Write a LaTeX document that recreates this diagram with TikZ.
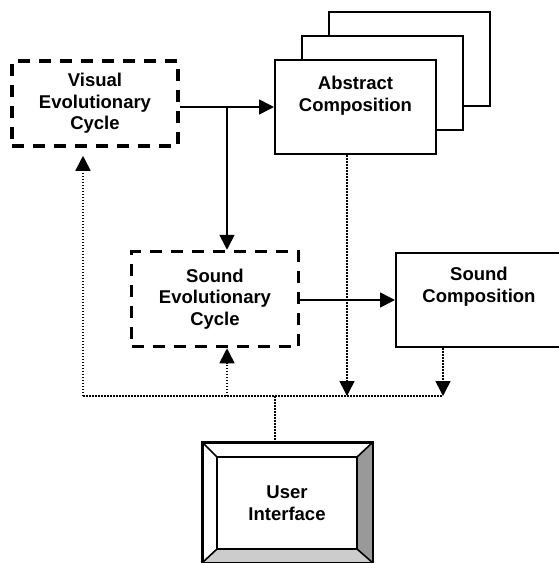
\documentclass[tikz,border=0pt]{standalone}
\usepackage{fontspec}
\setmainfont{Liberation Sans}
\usetikzlibrary{arrows.meta,calc}

\begin{document}
\begin{tikzpicture}[x=1pt, y=-1pt, every node/.style={font=\bfseries\fontsize{18.5}{21.5}\selectfont, align=center}, >={Triangle[length=15pt,width=15pt]}, cyc/.style={draw, line width=3.5pt, dash pattern=on 12pt off 9pt, inner sep=0pt}, comp/.style={draw, fill=white, line width=2pt, minimum width=161pt, minimum height=94pt, inner sep=0pt}, link/.style={line width=1.6pt}, usr/.style={line width=1.6pt, dash pattern=on 1.5pt off 1.5pt}]
	\useasboundingbox (0,0) rectangle (559,563);
	% evolutionary cycles
	\node[cyc, minimum width=166pt, minimum height=85pt] (vec) at (95,103.5) {Visual\\Evolutionary\\Cycle};
	\node[cyc, minimum width=167pt, minimum height=95pt] (sec) at (215,299) {Sound\\Evolutionary\\Cycle};
	% compositions
	\node[comp] (abs3) at (409.5,59) {};
	\node[comp] (abs2) at (382.5,83) {};
	\node[comp, label={[anchor=north, yshift=-14pt]north:Abstract\\Composition}] (abs) at (355.5,107) {};
	\node[comp, minimum width=166pt, label={[anchor=north, yshift=-12pt]north:Sound\\Composition}] (snd) at (479,300) {};
	% user interface
	\node[draw, line width=1.6pt, minimum width=169pt, minimum height=119pt, inner sep=0pt] (ui) at (287.5,502.5) {};
	\coordinate (i1) at ($(ui.north west)+(15,15)$);
	\coordinate (i2) at ($(ui.north east)+(-16,15)$);
	\coordinate (i3) at ($(ui.south east)+(-16,-14)$);
	\coordinate (i4) at ($(ui.south west)+(15,-14)$);
	\fill[black!40] (ui.north east) -- (ui.south east) -- (i3) -- (i2) -- cycle;
	\fill[black!20] (ui.south west) -- (ui.south east) -- (i3) -- (i4) -- cycle;
	\draw[line width=1.6pt, line join=miter] (ui.north west) rectangle (ui.south east);
	\draw[line width=1.6pt] (i1) rectangle (i3);
	\draw[line width=1.6pt] (ui.north west) -- (i1) (ui.north east) -- (i2) (ui.south east) -- (i3) (ui.south west) -- (i4);
	\node at ($(i1)!0.5!(i3)$) {User\\Interface};
	% data flow
	\coordinate (split) at (227,107);
	\draw[link, ->] (vec.east |- abs.west) -- (abs.west);
	\draw[link, ->] (split) -- (split |- sec.north);
	\draw[link, ->] (sec.east |- snd.west) -- (snd.west);
	% user feedback
	\coordinate (busL) at (83,396);
	\coordinate (busR) at (443,396);
	\coordinate (uiTop) at ([xshift=-12.5pt]ui.north);
	\draw[usr] (busL) -- (busR);
	\draw[usr, ->, shorten >=8pt] (busL) -- (busL |- vec.south);
	\draw[usr, ->] (split |- busL) -- (split |- sec.south);
	\draw[usr, ->] ([xshift=-8.5pt]abs.south) -- ([xshift=-8.5pt]abs.south |- busL);
	\draw[usr, ->] (busR |- snd.south) -- (busR);
	\draw[usr] (uiTop |- busL) -- (uiTop);
\end{tikzpicture}
\end{document}
